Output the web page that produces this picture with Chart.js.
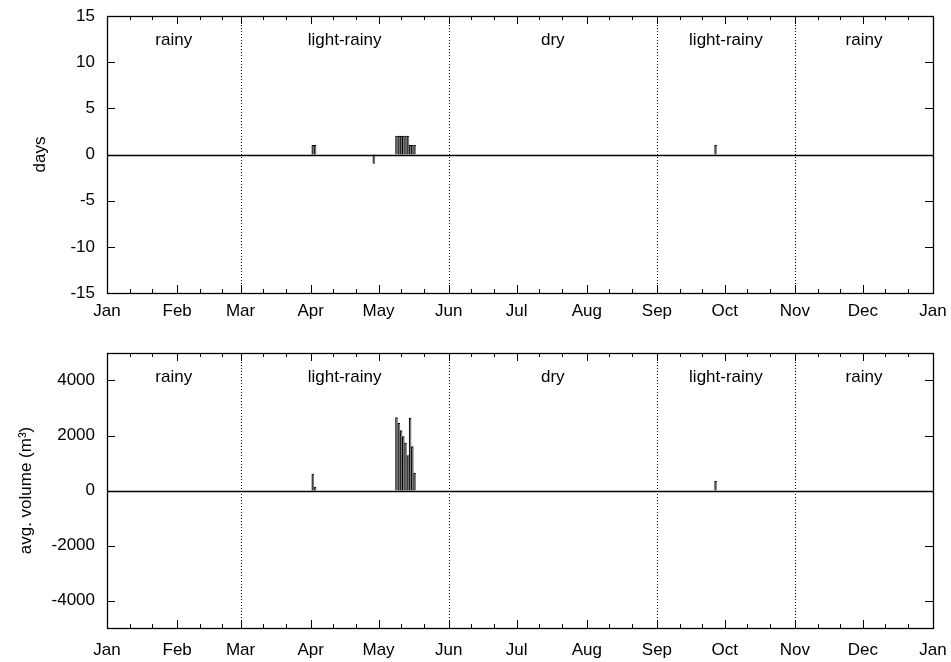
<!DOCTYPE html>
<html lang="en">
<head>
<meta charset="UTF-8">
<title>days and avg. volume</title>
<script src="https://cdn.jsdelivr.net/npm/chart.js"></script>
<style>
  html, body { margin: 0; padding: 0; background: #fff; }
  .panel { position: absolute; left: 0; width: 951px; height: 331px; }
</style>
</head>
<body>
<div class="panel" style="top:0"><canvas id="days"></canvas></div>
<div class="panel" style="top:331px"><canvas id="volume"></canvas></div>

<script>
// day-of-year positions of month starts, and their labels
const monthStarts = [0, 31, 59, 90, 120, 151, 181, 212, 243, 273, 304, 334, 365];
const monthLabels = ['Jan', 'Feb', 'Mar', 'Apr', 'May', 'Jun', 'Jul', 'Aug', 'Sep', 'Oct', 'Nov', 'Dec', 'Jan'];
const seasonBounds = [0, 59, 151, 243, 304, 365];
const seasonNames = ['rainy', 'light-rainy', 'dry', 'light-rainy', 'rainy'];

// days with something recorded
const eventDays = [91, 92, 118, 128, 129, 130, 131, 132, 133, 134, 135, 136, 269];
const daysValues = [1, 1, -1, 2, 2, 2, 2, 2, 2, 1, 1, 1, 1];
const volumeValues = [600, 120, 0, 2650, 2440, 2180, 1960, 1720, 1270, 2620, 1600, 630, 330];

const daysTicks = [-15, -10, -5, 0, 5, 10, 15];
const volumeTicks = [-4000, -2000, 0, 2000, 4000];

const FONT = { family: '"Liberation Sans", Arial, sans-serif', size: 17 };

// gnuplot-ish frame: inward ticks, mirrored, zero line, season lines and names
const frame = {
    id: 'frame',
    afterDatasetsDraw(chart) {
        const { ctx, chartArea: a, scales: { x, y } } = chart;
        const line = (x1, y1, x2, y2) => {
            ctx.beginPath(); ctx.moveTo(x1, y1); ctx.lineTo(x2, y2); ctx.stroke();
        };
        const px = v => Math.round(x.getPixelForValue(v)) + 0.5;
        const py = v => Math.round(y.getPixelForValue(v)) + 0.5;
        ctx.save();
        ctx.strokeStyle = '#000';
        ctx.lineWidth = 1;

        ctx.setLineDash([1, 2]);
        seasonBounds.slice(1, -1).forEach(d => line(px(d), a.top, px(d), a.bottom));
        ctx.setLineDash([]);

        ctx.lineWidth = 1.3;
        line(a.left, py(0), a.right, py(0));
        ctx.lineWidth = 1;

        monthStarts.forEach(d => {
            line(px(d), a.bottom, px(d), a.bottom - 8);
            line(px(d), a.top, px(d), a.top + 8);
        });
        monthStarts.slice(0, -1).forEach(d => [10, 20].forEach(o => {
            line(px(d + o), a.bottom, px(d + o), a.bottom - 4);
            line(px(d + o), a.top, px(d + o), a.top + 4);
        }));
        y.ticks.forEach(t => {
            line(a.left, py(t.value), a.left + 8, py(t.value));
            line(a.right, py(t.value), a.right - 8, py(t.value));
        });

        ctx.lineWidth = 1.3;
        ctx.strokeRect(Math.round(a.left) + 0.5, Math.round(a.top) + 0.5,
            Math.round(a.right - a.left), Math.round(a.bottom - a.top));

        ctx.fillStyle = '#000';
        ctx.font = FONT.size + 'px ' + FONT.family;
        ctx.textAlign = 'center';
        ctx.textBaseline = 'middle';
        seasonNames.forEach((s, i) => {
            ctx.fillText(s, x.getPixelForValue((seasonBounds[i] + seasonBounds[i + 1]) / 2), a.top + 24);
        });
        ctx.restore();
    }
};

function makeChart(id, values, ticks, limit, title, titlePad, padTop, xHeight, labelPad) {
    return new Chart(document.getElementById(id), {
        type: 'bar',
        data: {
            datasets: [{
                data: eventDays.map((d, i) => ({ x: d, y: values[i] })),
                backgroundColor: '#7a7a7a',
                borderColor: '#000',
                borderWidth: { left: 1, top: 1, right: 0, bottom: 0 },
                barPercentage: 1,
                categoryPercentage: 1
            }]
        },
        options: {
            responsive: true,
            maintainAspectRatio: false,
            animation: false,
            devicePixelRatio: 1,
            layout: { padding: { left: 0, right: 18, top: padTop, bottom: 0 } },
            plugins: { legend: { display: false }, tooltip: { enabled: false } },
            scales: {
                x: {
                    type: 'linear',
                    min: 0,
                    max: 365,
                    offset: false,
                    grid: { display: false, drawTicks: false, offset: false },
                    border: { display: false },
                    afterBuildTicks: s => { s.ticks = monthStarts.map(v => ({ value: v })); },
                    afterFit: s => {
                        s.height = xHeight;
                        s.paddingLeft = 0;
                        s.paddingRight = 0;
                    },
                    ticks: {
                        autoSkip: false,
                        maxRotation: 0,
                        padding: labelPad,
                        color: '#000',
                        font: FONT,
                        callback: v => monthLabels[monthStarts.indexOf(v)]
                    }
                },
                y: {
                    min: -limit,
                    max: limit,
                    grid: { display: false, drawTicks: false },
                    border: { display: false },
                    afterBuildTicks: s => { s.ticks = ticks.map(v => ({ value: v })); },
                    afterFit: s => {
                        s.width = 107;
                        s.paddingTop = 0;
                        s.paddingBottom = 0;
                    },
                    ticks: { padding: 12, color: '#000', font: FONT, callback: v => String(v) },
                    title: {
                        display: true,
                        text: title,
                        color: '#000',
                        font: FONT,
                        padding: { top: titlePad, bottom: 0 }
                    }
                }
            }
        },
        plugins: [frame]
    });
}

makeChart('days', daysValues, daysTicks, 15, 'days', 30, 16, 38, 8);
makeChart('volume', volumeValues, volumeTicks, 5000, 'avg. volume (m³)', 16, 22, 34, 12);
</script>
</body>
</html>
